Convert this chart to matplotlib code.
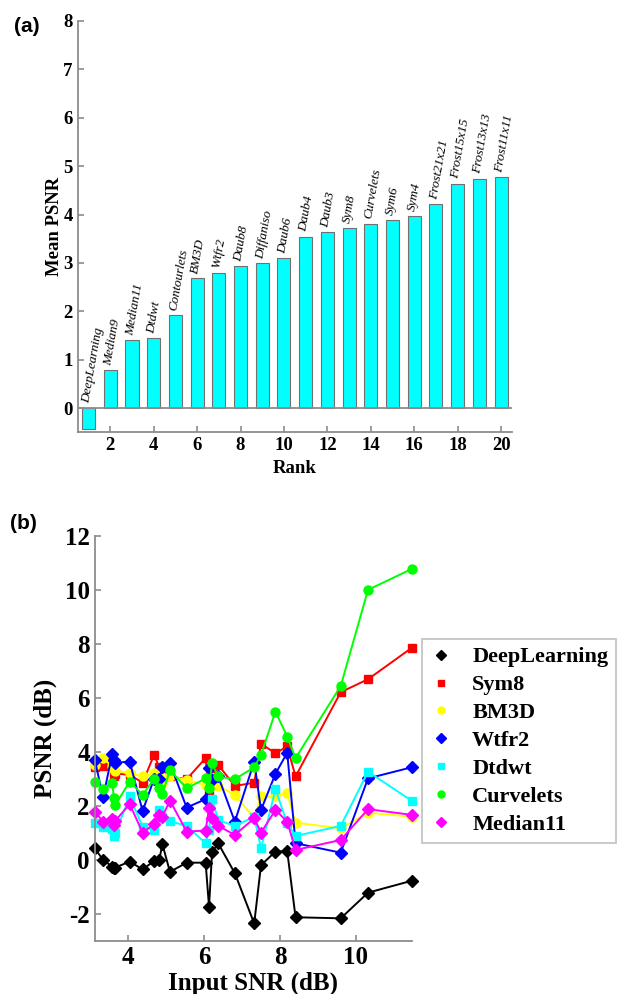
import numpy as np
import matplotlib.pyplot as plt

plt.rcParams['axes.unicode_minus'] = False

# ---- datos panel (a): PSNR medio por método, ordenado por rango
metodos = ['DeepLearning', 'Median9', 'Median11', 'Dtdwt', 'Contourlets', 'BM3D',
           'Wtfr2', 'Daub8', 'Diffaniso', 'Daub6', 'Daub4', 'Daub3', 'Sym8',
           'Curvelets', 'Sym6', 'Sym4', 'Frost21x21', 'Frost15x15', 'Frost13x13',
           'Frost11x11']
psnr_medio = [-0.43, 0.79, 1.40, 1.44, 1.92, 2.68, 2.79, 2.94, 2.99, 3.10,
              3.54, 3.63, 3.73, 3.81, 3.89, 3.97, 4.21, 4.64, 4.74, 4.77]
rango = np.arange(1, len(metodos) + 1)

# ---- datos panel (b): PSNR frente a SNR de entrada
snr_entrada = [3.12, 3.34, 3.58, 3.62, 3.66, 4.04, 4.38, 4.68, 4.82, 4.90, 5.10,
               5.54, 6.04, 6.13, 6.21, 6.37, 6.81, 7.32, 7.50, 7.88, 8.19, 8.41,
               9.60, 10.32, 11.47]
deep = [0.43, 0.00, -0.25, -0.30, -0.28, -0.06, -0.35, -0.04, 0.00, 0.59, -0.44,
        -0.10, -0.10, -1.73, 0.28, 0.62, -0.49, -2.35, -0.19, 0.31, 0.33, -2.12,
        -2.16, -1.21, -0.77]
sym8 = [3.43, 3.46, 3.80, 3.09, 3.20, 3.15, 2.86, 3.89, 3.43, 3.40, 3.09,
        2.99, 3.77, 2.47, 3.40, 3.52, 2.74, 2.86, 4.30, 3.95, 4.20, 3.09,
        6.21, 6.69, 7.85]
bm3d = [3.50, 3.77, 3.46, 3.36, 3.30, 3.21, 3.09, 3.21, 3.10, 2.86, 3.10,
        2.96, 2.77, 2.70, 2.96, 2.74, 2.41, 1.55, 2.35, 2.35, 2.47, 1.38,
        1.17, 1.75, 1.60]
wtfr2 = [3.70, 2.32, 3.93, 3.70, 3.60, 3.64, 1.81, 3.00, 2.99, 3.43, 3.58,
         1.94, 2.25, 3.40, 2.96, 3.10, 1.42, 3.64, 1.85, 3.19, 3.97, 0.62,
         0.27, 3.02, 3.43]
dtdwt = [1.36, 1.23, 1.14, 0.89, 1.00, 2.35, 1.23, 1.11, 1.85, 1.60, 1.44,
         1.26, 0.62, 1.11, 2.25, 1.48, 1.26, 1.60, 0.43, 2.62, 1.36, 0.89,
         1.26, 3.27, 2.19]
curvelets = [2.90, 2.62, 2.86, 2.31, 2.04, 2.90, 2.41, 2.99, 2.65, 2.44, 3.33,
             2.65, 3.02, 2.65, 3.58, 3.09, 2.99, 3.43, 3.89, 5.49, 4.57, 3.77,
             6.44, 10.00, 10.77]
median11 = [1.79, 1.42, 1.50, 1.30, 1.45, 2.07, 1.01, 1.33, 1.67, 1.60, 2.20,
            1.05, 1.09, 1.91, 1.54, 1.26, 0.93, 1.54, 1.01, 1.85, 1.42, 0.37,
            0.74, 1.88, 1.67]

series = [('DeepLearning', deep, 'k', 'D', 6),
          ('Sym8', sym8, '#ff0000', 's', 5.5),
          ('BM3D', bm3d, '#ffff00', 'o', 6.5),
          ('Wtfr2', wtfr2, '#0000ff', 'D', 6),
          ('Dtdwt', dtdwt, '#00ffff', 's', 5.5),
          ('Curvelets', curvelets, '#00ff00', 'o', 6.5),
          ('Median11', median11, '#ff00ff', 'D', 6)]

serif = ['Liberation Serif', 'DejaVu Serif']
gris = '#8c8c8c'

fig = plt.figure(figsize=(6.32, 9.94), dpi=100)


def estilo_ejes(ax):
    for lado in ['top', 'right']:
        ax.spines[lado].set_visible(False)
    for lado in ['left', 'bottom']:
        ax.spines[lado].set_color(gris)
        ax.spines[lado].set_linewidth(1.3)
    ax.tick_params(direction='in', color=gris, width=1.2, length=4)
    for t in ax.get_xticklabels() + ax.get_yticklabels():
        t.set_fontfamily(serif)
        t.set_fontweight('bold')


# ---- panel (a)
ax1 = fig.add_axes([0.123, 0.565, 0.687, 0.414])
ax1.bar(rango, psnr_medio, width=0.6, color='#00ffff', edgecolor='#707070', linewidth=0.8)
ax1.axhline(0, color=gris, linewidth=1.3)
for x, h, nombre in zip(rango, psnr_medio, metodos):
    ax1.text(x - 0.1, max(h, 0) + 0.1, nombre, rotation=80, rotation_mode='anchor',
             ha='left', va='center', fontsize=9.5, style='italic', family=serif)
ax1.set_xlim(0.5, 20.5)
ax1.set_ylim(-0.5, 8)
ax1.set_xticks(np.arange(2, 21, 2))
ax1.set_yticks(np.arange(0, 9, 1))
ax1.tick_params(labelsize=13.5)
ax1.set_xlabel('Rank', fontsize=13.5, fontweight='bold', family=serif, labelpad=4)
ax1.set_ylabel('Mean PSNR', fontsize=13.5, fontweight='bold', family=serif, labelpad=0)
estilo_ejes(ax1)
fig.text(0.022, 0.968, '(a)', fontsize=15, fontweight='bold', family='Liberation Sans')

# ---- panel (b)
ax2 = fig.add_axes([0.150, 0.0533, 0.502, 0.4077])
for nombre, valores, color, marcador, tam in series:
    ax2.plot(snr_entrada, valores, color=color, marker=marcador, markersize=tam,
             linewidth=1.4, label=nombre, clip_on=False)
ax2.set_xlim(3.12, 11.48)
ax2.set_ylim(-3, 12)
ax2.set_xticks([4, 6, 8, 10])
ax2.set_yticks(np.arange(-2, 13, 2))
ax2.tick_params(labelsize=18)
ax2.set_xlabel('Input SNR (dB)', fontsize=18, fontweight='bold', family=serif, labelpad=2)
ax2.set_ylabel('PSNR (dB)', fontsize=18, fontweight='bold', family=serif, labelpad=6)
estilo_ejes(ax2)
fig.text(0.016, 0.468, '(b)', fontsize=15, fontweight='bold', family='Liberation Sans')

manejadores = [plt.Line2D([], [], color=c, marker=m, markersize=5, linestyle='none')
               for _, _, c, m, _ in series]
leg = fig.legend(manejadores, [s[0] for s in series], loc='upper left',
                 bbox_to_anchor=(0.668, 0.357), frameon=True, fancybox=False,
                 prop={'family': serif, 'weight': 'bold', 'size': 16},
                 handlelength=1.0, handletextpad=0.9, labelspacing=0.33,
                 borderpad=0.35, borderaxespad=0)
leg.get_frame().set_edgecolor('#b0b0b0')
leg.get_frame().set_linewidth(1.2)

fig.savefig('out.png', dpi=100)
